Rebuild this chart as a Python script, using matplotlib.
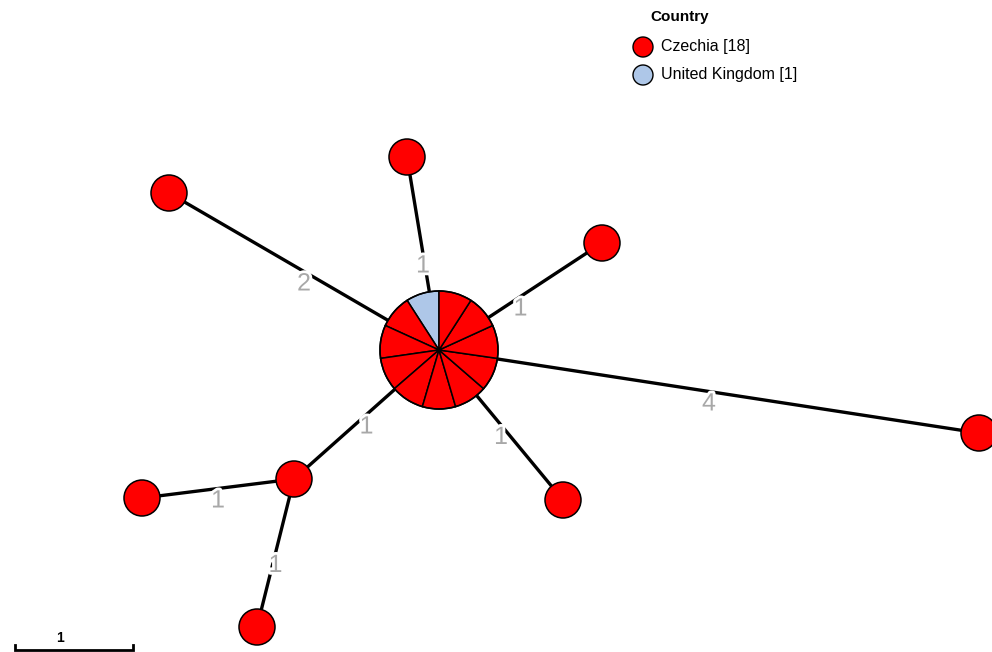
import numpy as np
import matplotlib.pyplot as plt
from matplotlib.patches import Circle, Wedge
import matplotlib.patheffects as pe

plt.rcParams['font.family'] = ['Liberation Sans', 'DejaVu Sans']

# node layout (pixel space) and sample composition
node_x = [439, 407, 169, 602, 979, 563, 294, 142, 257]
node_y = [350, 157, 193, 243, 433, 500, 479, 498, 627]
node_czechia = [10, 1, 1, 1, 1, 1, 1, 1, 1]
node_uk = [1, 0, 0, 0, 0, 0, 0, 0, 0]

# tree edges: (from, to, allele distance)
edge_src = [0, 0, 0, 0, 0, 0, 6, 6]
edge_dst = [1, 2, 3, 4, 5, 6, 7, 8]
edge_dist = [1, 2, 1, 4, 1, 1, 1, 1]

countries = ['Czechia', 'United Kingdom']
country_colors = ['#ff0000', '#aec7e8']
country_totals = [sum(node_czechia), sum(node_uk)]

fig = plt.figure(figsize=(9.92, 6.52), dpi=100)
ax = fig.add_axes([0, 0, 1, 1])
ax.set_xlim(0, 992)
ax.set_ylim(652, 0)
ax.set_aspect('equal')
ax.axis('off')

# edges + distance labels
for s, d, w in zip(edge_src, edge_dst, edge_dist):
    x0, y0, x1, y1 = node_x[s], node_y[s], node_x[d], node_y[d]
    ax.plot([x0, x1], [y0, y1], color='black', lw=2.4, zorder=1, solid_capstyle='butt')
    mx, my = (x0 + x1) / 2, (y0 + y1) / 2
    ax.text(mx, my, str(w), ha='center', va='top', fontsize=18, color='#a8a8a8', zorder=2,
            path_effects=[pe.withStroke(linewidth=4, foreground='white')])

# nodes: radius grows with sample count
for x, y, cz, uk in zip(node_x, node_y, node_czechia, node_uk):
    n = cz + uk
    r = 18 if n == 1 else 59
    if n == 1:
        col = country_colors[0] if cz else country_colors[1]
        ax.add_patch(Circle((x, y), r, facecolor=col, edgecolor='black', lw=1.1, zorder=3))
        continue
    step = 360.0 / n
    colors = [country_colors[1]] * uk + [country_colors[0]] * cz
    # y axis is flipped, so 270 deg is screen-up and decreasing angle runs anticlockwise
    for i, c in enumerate(colors):
        a1 = 270 - i * step
        ax.add_patch(Wedge((x, y), r, a1 - step, a1, facecolor=c, edgecolor='black', lw=1.1, zorder=3))
    ax.add_patch(Circle((x, y), r, facecolor='none', edgecolor='black', lw=1.1, zorder=4))
    ax.add_patch(Circle((x, y), 2, facecolor='black', edgecolor='none', zorder=4))

# legend
ax.text(650, 17, 'Country', fontsize=11, fontweight='bold', va='center', ha='left')
for i, (name, col, tot) in enumerate(zip(countries, country_colors, country_totals)):
    ly = 47 + i * 28
    ax.add_patch(Circle((643, ly), 10, facecolor=col, edgecolor='black', lw=1.0, zorder=3))
    ax.text(661, ly, f'{name} [{tot}]', fontsize=11.5, va='center', ha='left')

# scale bar (1 allele)
ax.plot([15, 15, 133, 133], [645, 650, 650, 645], color='black', lw=2, solid_joinstyle='miter')
ax.text(60, 638, '1', fontsize=10, fontweight='bold', ha='center', va='center')

fig.savefig('out.png', dpi=100)
